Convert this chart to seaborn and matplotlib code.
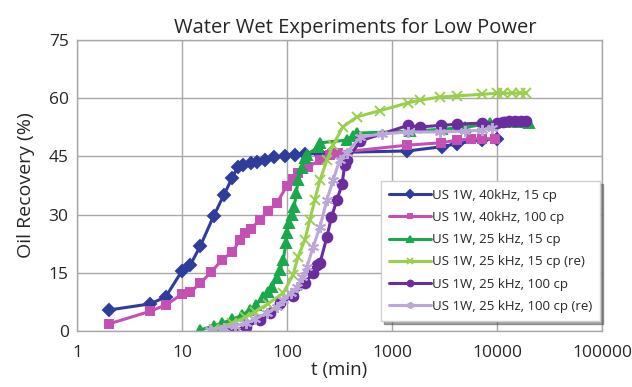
import matplotlib
matplotlib.use("Agg")
import matplotlib.pyplot as plt
import seaborn as sns
import pandas as pd

# Dados (t em minutos, recuperação de óleo em %)
t_40_15 = [2, 5, 7, 10, 12, 15, 20, 25, 30, 34, 38, 45, 52, 62, 75, 96, 120, 150, 200, 260,
           1400, 3000, 4200, 7200, 10000]
y_40_15 = [5.4, 7.0, 8.8, 15.5, 17, 22, 29.6, 35, 39.4, 42.3, 42.8, 43.3, 43.6, 44, 44.8, 45.1, 45.4,
           45.6, 45.8, 46, 46.4, 47.5, 48.3, 49.3, 49.6]

t_40_100 = [2, 5, 7, 10, 12, 15, 19, 24, 30, 36, 40, 45, 55, 66, 80, 100, 114, 127, 158, 206, 257, 305,
            1400, 2900, 4200, 5600, 7200, 9500]
y_40_100 = [1.8, 5.1, 6.7, 9.5, 10, 12.4, 15.2, 18.3, 20.4, 23.5, 25.3, 26.3, 28.6, 30.9, 33, 37.4, 39.1,
            40.7, 42.3, 44, 45.4, 46, 47.9, 48.5, 49.2, 49.5, 49.5, 49.5]

t_25_15 = [15, 20, 24, 30, 37, 44, 51, 59, 66, 72, 80, 86, 92, 98, 100, 104, 111, 117, 123, 127, 138,
           148, 155, 196, 206, 372, 425, 464, 1500, 3000, 5000, 8600, 12000, 16000, 20000]
y_25_15 = [0.3, 1.3, 2, 3, 4, 5.4, 6.7, 8.8, 10, 11.3, 13.7, 15.7, 18.3, 22.7, 25.3, 27.8, 30, 32, 35.6,
           39, 42, 44.6, 45.4, 47.4, 48.5, 49.2, 50.3, 51, 51.5, 52, 52.5, 53.5, 53.8, 53.8, 53.6]

t_25_15_re = [20, 30, 40, 50, 66, 92, 114, 127, 148, 165, 184, 206, 240, 275, 340, 464, 770, 1420, 1850,
              2850, 4150, 7200, 10000, 11400, 13800, 16500, 19000]
y_25_15_re = [0.5, 2, 3.5, 5, 7, 9.8, 14.4, 19, 23.5, 28.6, 33.8, 38.9, 44, 48, 52.6, 55.2, 56.8, 58.8,
              59.5, 60.3, 60.6, 61, 61.3, 61.3, 61.3, 61.3, 61.3]

t_25_100 = [29, 41, 55, 69, 86, 114, 148, 177, 193, 206, 240, 265, 300, 335, 355, 372, 500, 1420, 1850,
            2950, 4150, 7200, 10000, 11500, 13000, 15000, 17000, 19000]
y_25_100 = [0, 1, 2.8, 4.6, 7.2, 9, 12.4, 15, 17, 17.5, 24.2, 29.4, 33.8, 38, 42.8, 44, 49, 53, 52.6,
            53, 53.3, 53.6, 53.6, 53.8, 54, 54, 54.1, 54.2]

t_25_100_re = [18.5, 25, 32, 41, 50, 64, 80, 92, 110, 124, 140, 155, 177, 206, 240, 275, 317, 372, 500,
               800, 1420, 2850, 5000, 7200, 9000]
y_25_100_re = [0.3, 0.8, 1.4, 2, 3.2, 4.6, 6.3, 8, 9.8, 11.3, 13.8, 16.5, 21.6, 26.8, 33.8, 38.9, 44, 46,
               50, 50.8, 51.3, 51.3, 51.5, 51.8, 52.3]

series = [
    ("US 1W, 40kHz, 15 cp", t_40_15, y_40_15, "#2E3D9C", "D", 6.5),
    ("US 1W, 40kHz, 100 cp", t_40_100, y_40_100, "#C64FB5", "s", 6),
    ("US 1W, 25 kHz, 15 cp", t_25_15, y_25_15, "#19A84B", "^", 7),
    ("US 1W, 25 kHz, 15 cp (re)", t_25_15_re, y_25_15_re, "#98D04C", "x", 7),
    ("US 1W, 25 kHz, 100 cp", t_25_100, y_25_100, "#6B2C9E", "o", 7),
    ("US 1W, 25 kHz, 100 cp (re)", t_25_100_re, y_25_100_re, "#BBA8D8", (6, 2, 0), 8),
]

sns.set_style("white")
plt.rcParams['font.family'] = ['Open Sans', 'DejaVu Sans']

fig = plt.figure(figsize=(6.32, 3.87), dpi=100)
ax = fig.add_axes([0.1218, 0.1447, 0.8307, 0.7519])

for nome, t, y, cor, marc, ms in series:
    df = pd.DataFrame({'t': t, 'y': y})
    sns.lineplot(data=df, x='t', y='y', ax=ax, color=cor, marker=marc, markersize=ms,
                 markeredgecolor=cor, markeredgewidth=1.4, linewidth=2.2, label=nome,
                 estimator=None, sort=False)

ax.set_xscale('log')
ax.set_xlim(1, 100000)
ax.set_ylim(0, 75)
ax.set_yticks([0, 15, 30, 45, 60, 75])
ax.set_xticks([1, 10, 100, 1000, 10000, 100000])
ax.set_xticklabels(['1', '10', '100', '1000', '10000', '100000'])
ax.minorticks_off()
ax.tick_params(axis='x', labelsize=12.5, length=0, pad=10)
ax.tick_params(axis='y', labelsize=12.5, length=0, pad=6)
ax.grid(True, color='#A8A8A8', linewidth=1)
for s in ax.spines.values():
    s.set_color('#A8A8A8')
    s.set_linewidth(1)

ax.set_title('Water Wet Experiments for Low Power', fontsize=14.5, pad=5, x=0.53)
ax.set_xlabel('t (min)', fontsize=13.5, labelpad=0)
ax.set_ylabel('Oil Recovery (%)', fontsize=14, labelpad=10)

leg = ax.legend(loc='lower right', bbox_to_anchor=(0.997, 0.035), borderaxespad=0,
                fontsize=9.5, handlelength=3.2, handletextpad=0.1, labelspacing=0.7,
                frameon=True, fancybox=False, shadow=True, framealpha=1, markerscale=0.6,
                edgecolor='#D0D0D0', borderpad=0.6)

plt.savefig('out.png', dpi=100)
